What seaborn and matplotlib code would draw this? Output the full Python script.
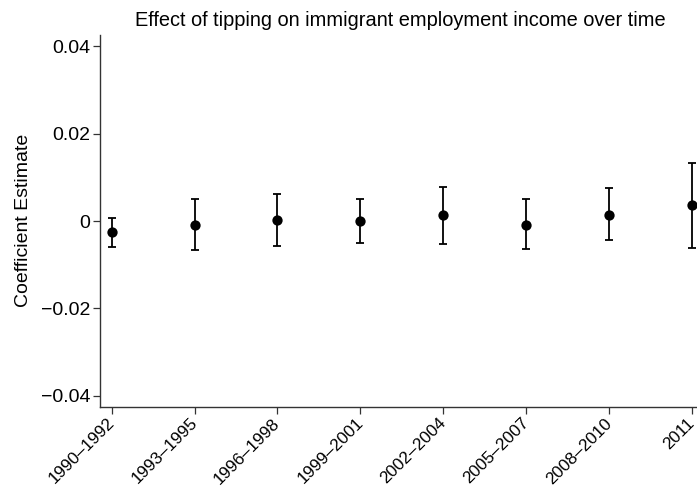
import numpy as np
import pandas as pd
import matplotlib
matplotlib.use("Agg")
import matplotlib.pyplot as plt
import matplotlib.transforms as mtransforms
import seaborn as sns

# Values
periods = ["1990\u20131992", "1993\u20131995", "1996\u20131998", "1999\u20132001",
           "2002\u20132004", "2005\u20132007", "2008\u20132010", "2011"]
coef = [-0.0025, -0.0008, 0.0003, 0.0001, 0.0013, -0.0008, 0.0015, 0.0037]
ci_low = [-0.0059, -0.0066, -0.0057, -0.0050, -0.0053, -0.0065, -0.0044, -0.0062]
ci_high = [0.0008, 0.0050, 0.0063, 0.0051, 0.0079, 0.0051, 0.0075, 0.0134]
y_ticks = [-0.04, -0.02, 0, 0.02, 0.04]
y_tick_labels = ["\u22120.04", "\u22120.02", "0", "0.02", "0.04"]

df = pd.DataFrame({"period": periods, "coef": coef,
                   "lo": ci_low, "hi": ci_high})

sns.set_theme(style="ticks")
plt.rcParams["font.family"] = ["Liberation Sans", "DejaVu Sans"]
plt.rcParams["text.color"] = "black"
plt.rcParams["axes.labelcolor"] = "black"

fig = plt.figure(figsize=(6.97, 4.91), dpi=100)
ax = fig.add_axes([0.1435, 0.1717, 0.8565, 0.757])

# Confidence intervals, then the point estimates on top
yerr = np.vstack([df["coef"] - df["lo"], df["hi"] - df["coef"]])
ax.errorbar(df["period"], df["coef"], yerr=yerr, fmt="none",
            ecolor="black", elinewidth=1.3, capsize=3, capthick=1.3, zorder=2)
sns.scatterplot(data=df, x="period", y="coef", ax=ax, color="black",
                s=55, edgecolor="black", linewidth=0, zorder=3, clip_on=False)

ax.set_xlim(-0.14, 7.06)
ax.set_ylim(-0.0425, 0.0426)
ax.set_yticks(y_ticks)
ax.set_yticklabels(y_tick_labels, fontsize=14)
ax.tick_params(axis="both", length=5, width=0.9, color="#333333",
               labelcolor="black", pad=2)

# rotated period labels, nudged so they end just under the tick
shift = mtransforms.ScaledTranslation(-5 / 100, 1 / 100, fig.dpi_scale_trans)
for lab in ax.get_xticklabels():
    lab.set_rotation(45)
    lab.set_ha("right")
    lab.set_va("top")
    lab.set_rotation_mode("anchor")
    lab.set_fontsize(12.3)
    lab.set_transform(lab.get_transform() + shift)

sns.despine(ax=ax)
for s in ["left", "bottom"]:
    ax.spines[s].set_color("#333333")
    ax.spines[s].set_linewidth(1.0)

ax.set_xlabel("")
ax.set_ylabel("Coefficient Estimate", fontsize=14, labelpad=6)
fig.suptitle("Effect of tipping on immigrant employment income over time",
             fontsize=14.4, x=0.575, y=0.978)

fig.savefig("out.png", dpi=100)
